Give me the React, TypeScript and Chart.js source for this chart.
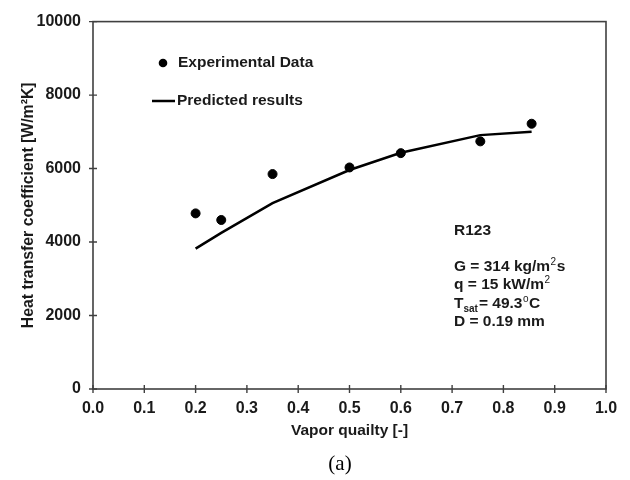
import React, { useEffect, useRef } from "react";
import { Chart, registerables } from "chart.js";

Chart.register(...registerables);

const expX = [0.2, 0.25, 0.35, 0.5, 0.6, 0.755, 0.855];
const expY = [4780, 4600, 5850, 6030, 6420, 6740, 7220];
const predX = [0.2, 0.25, 0.35, 0.5, 0.6, 0.755, 0.855];
const predY = [3820, 4250, 5060, 5960, 6430, 6910, 7000];

const xTitle = "Vapor quailty [-]";
const yTitle = "Heat transfer coefficient [W/m\u00B2K]";
const legendLabels = ["Experimental Data", "Predicted results"];
const caption = "(a)";
// annotation lines: segments [text, mode] mode: n normal, sup, sub
const noteLines: [string, string][][] = [
  [["R123", "n"]],
  [],
  [["G = 314 kg/m", "n"], ["2", "sup"], ["s", "n"]],
  [["q = 15 kW/m", "n"], ["2", "sup"]],
  [["T", "n"], ["sat", "sub"], ["= 49.3", "n"], ["o", "sup"], ["C", "n"]],
  [["D = 0.19 mm", "n"]],
];

const FONT = "'Liberation Sans', Arial, sans-serif";
const TEXT = "#1a1a1a";
const AXIS = "#404040";
const FS = 15.5;

const decor = {
  id: "decor",
  beforeDatasetsDraw(chart: any) {
    const { ctx, chartArea: a, scales } = chart;
    ctx.save();
    ctx.strokeStyle = AXIS;
    ctx.lineWidth = 1.6;
    ctx.strokeRect(a.left, a.top, a.right - a.left, a.bottom - a.top);
    ctx.lineWidth = 1.4;
    ctx.beginPath();
    scales.x.ticks.forEach((t: any) => {
      const px = scales.x.getPixelForValue(t.value);
      ctx.moveTo(px, a.bottom - 4);
      ctx.lineTo(px, a.bottom + 4);
    });
    scales.y.ticks.forEach((t: any) => {
      const py = scales.y.getPixelForValue(t.value);
      ctx.moveTo(a.left - 4, py);
      ctx.lineTo(a.left + 4, py);
    });
    ctx.stroke();
    ctx.restore();
  },
  afterDatasetsDraw(chart: any) {
    const { ctx } = chart;
    ctx.save();
    ctx.fillStyle = TEXT;
    ctx.textBaseline = "middle";
    ctx.textAlign = "left";
    ctx.font = `bold ${FS}px ${FONT}`;
    // legend
    ctx.beginPath();
    ctx.fillStyle = "#000";
    ctx.arc(163, 63, 4.3, 0, Math.PI * 2);
    ctx.fill();
    ctx.fillStyle = TEXT;
    ctx.fillText(legendLabels[0], 178, 63);
    ctx.strokeStyle = "#000";
    ctx.lineWidth = 2.5;
    ctx.beginPath();
    ctx.moveTo(152, 101);
    ctx.lineTo(175, 101);
    ctx.stroke();
    ctx.fillText(legendLabels[1], 177, 101);
    // annotations
    const x0 = 454;
    const ys = [231, 249, 267, 285, 304, 322];
    noteLines.forEach((line, i) => {
      const y = ys[i];
      let x = x0;
      line.forEach(([txt, mode]) => {
        if (mode === "n") {
          ctx.font = `bold ${FS}px ${FONT}`;
          ctx.fillText(txt, x, y);
        } else if (mode === "sup") {
          ctx.font = `10px ${FONT}`;
          ctx.fillText(txt, x + 0.5, y - 5);
        } else {
          ctx.font = `bold 10px ${FONT}`;
          ctx.fillText(txt, x, y + 5);
        }
        x += ctx.measureText(txt).width + (mode === "n" ? 0 : 1);
      });
    });
    // caption
    ctx.font = `21px 'Liberation Serif', 'Times New Roman', serif`;
    ctx.textAlign = "center";
    ctx.fillStyle = "#000";
    ctx.fillText(caption, 340, 464);
    ctx.restore();
  },
};

export default function App() {
  const ref = useRef<HTMLCanvasElement | null>(null);
  useEffect(() => {
    if (!ref.current) return;
    const chart = new Chart(ref.current, {
      type: "scatter",
      data: {
        datasets: [
          {
            label: legendLabels[0],
            data: expX.map((x, i) => ({ x, y: expY[i] })),
            backgroundColor: "#000",
            borderColor: "#000",
            pointRadius: 4.5,
            showLine: false,
          },
          {
            label: legendLabels[1],
            data: predX.map((x, i) => ({ x, y: predY[i] })),
            borderColor: "#000",
            backgroundColor: "#000",
            borderWidth: 2.5,
            pointRadius: 0,
            showLine: true,
            tension: 0,
          },
        ],
      },
      options: {
        animation: false,
        responsive: false,
        maintainAspectRatio: false,
        layout: { padding: { left: 0, top: 19, right: 24, bottom: 0 } },
        plugins: { legend: { display: false }, tooltip: { enabled: false } },
        scales: {
          x: {
            type: "linear",
            min: 0,
            max: 1,
            ticks: {
              stepSize: 0.1,
              callback: (v: any) => Number(v).toFixed(1),
              font: { family: FONT, size: 16, weight: "bold" },
              color: TEXT,
              padding: 10,
              maxRotation: 0,
            },
            grid: { drawOnChartArea: false, drawTicks: false },
            border: { display: false },
            title: {
              display: true,
              text: xTitle,
              font: { family: FONT, size: FS, weight: "bold" },
              color: TEXT,
              padding: { top: 0, bottom: 40 },
            },
            afterFit: (s: any) => {
              s.height = 91;
            },
          },
          y: {
            min: 0,
            max: 10000,
            ticks: {
              stepSize: 2000,
              callback: (v: any) => String(v),
              font: { family: FONT, size: 16, weight: "bold" },
              color: TEXT,
              padding: 12,
            },
            grid: { drawOnChartArea: false, drawTicks: false },
            border: { display: false },
            title: {
              display: true,
              text: yTitle,
              font: { family: FONT, size: 15.8, weight: "bold" },
              color: TEXT,
              padding: { top: 19, bottom: 0 },
            },
            afterFit: (s: any) => {
              s.width = 93;
            },
          },
        },
      },
      plugins: [decor],
    });
    return () => chart.destroy();
  }, []);
  return (
    <div style={{ position: "fixed", left: 0, top: 0, width: 630, height: 480, background: "#fff" }}>
      <canvas ref={ref} width={630} height={480} style={{ width: 630, height: 480 }} />
    </div>
  );
}
